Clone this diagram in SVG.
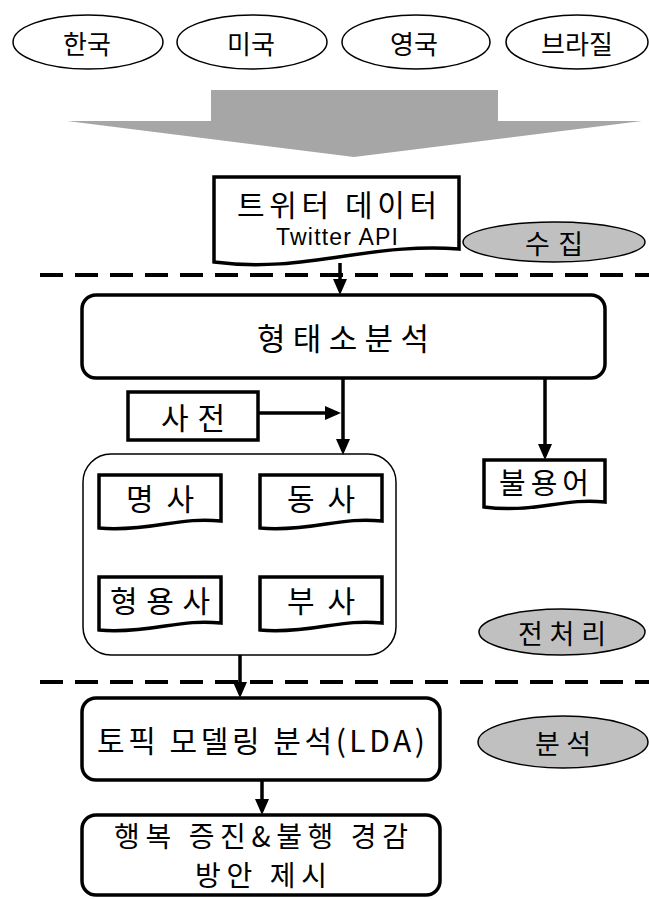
<svg xmlns="http://www.w3.org/2000/svg" width="649" height="899" viewBox="0 0 649 899">
<style>
.t{font-family:"Noto Sans CJK KR","Noto Sans",sans-serif;fill:#000;text-anchor:middle;dominant-baseline:central}
.en{font-family:"Liberation Sans",Arial,sans-serif;fill:#000;text-anchor:middle;dominant-baseline:central}
.thin{fill:#fff;stroke:#000;stroke-width:1.5}
.thick{fill:#fff;stroke:#000;stroke-width:3.5}
.gray{fill:#c0c0c0;stroke:#000;stroke-width:1.5}
.dash{stroke:#000;stroke-width:4;stroke-dasharray:23 12;fill:none}
.conn{stroke:#000;stroke-width:3.5;fill:none}
</style>
<defs>
<marker id="ah" markerUnits="userSpaceOnUse" viewBox="0 0 16 14" markerWidth="16" markerHeight="14" refX="12" refY="7" orient="auto">
<path d="M0,0 L16,7 L0,14 Z" fill="#000"/>
</marker>
</defs>

<g id="country-korea"><ellipse class="thin" cx="88" cy="42" rx="75" ry="27"/><text class="t" x="87" y="42" font-size="26" textLength="48" lengthAdjust="spacing">한국</text></g>
<g id="country-usa"><ellipse class="thin" cx="252" cy="42" rx="75" ry="27"/><text class="t" x="251" y="42" font-size="26" textLength="48" lengthAdjust="spacing">미국</text></g>
<g id="country-uk"><ellipse class="thin" cx="416" cy="42" rx="74" ry="27"/><text class="t" x="414" y="42" font-size="26" textLength="48" lengthAdjust="spacing">영국</text></g>
<g id="country-brazil"><ellipse class="thin" cx="577" cy="42" rx="71" ry="27"/><text class="t" x="577" y="42" font-size="26" textLength="72" lengthAdjust="spacing">브라질</text></g>

<g id="big-arrow"><polygon points="211,90 498,90 498,121 642,121 354,157 67,121 211,121" fill="#a6a6a6"/></g>

<g id="twitter-data">
<path class="thick" d="M214,177 H459 V249 C420,246 385,250 345,256 C300,263 260,268 214,262 Z"/>
<text class="t" x="337" y="203" font-size="30" textLength="200" lengthAdjust="spacing">트위터 데이터</text>
<text class="en" x="337" y="237" font-size="23" textLength="122" lengthAdjust="spacing">Twitter API</text>
</g>

<g id="stage-collect"><ellipse class="gray" cx="554" cy="242" rx="91" ry="20"/><text class="t" x="554" y="242" font-size="27" textLength="58" lengthAdjust="spacing">수집</text></g>

<g id="separators">
<line class="dash" x1="40" y1="275" x2="649" y2="275"/>
<line class="dash" x1="40" y1="682" x2="649" y2="682"/>
</g>

<g id="morph"><rect class="thick" x="82" y="295" width="523" height="83" rx="14"/><text class="t" x="343" y="336" font-size="31" textLength="172" lengthAdjust="spacing">형태소분석</text></g>

<g id="dict"><rect class="thick" x="128" y="392" width="130" height="48"/><text class="t" x="193" y="416" font-size="30" textLength="64" lengthAdjust="spacing">사전</text></g>

<g id="stopword">
<path class="thick" d="M484,460 H605 V502 C585,500 570,502 550,505 C525,509 505,510 484,507 Z"/>
<text class="t" x="544" y="481" font-size="29" textLength="90" lengthAdjust="spacing">불용어</text>
</g>

<g id="pos-group">
<rect class="thin" x="83" y="454" width="313" height="201" rx="28"/>
</g>
<g id="noun">
<path class="thick" d="M99,475 H221 V521 C200,519 185,521 165,524 C140,528 120,530 99,528 Z"/>
<text class="t" x="160" y="497" font-size="30" textLength="68" lengthAdjust="spacing">명사</text>
</g>
<g id="verb">
<path class="thick" d="M260,475 H382 V521 C361,519 346,521 326,524 C301,528 281,530 260,528 Z"/>
<text class="t" x="321" y="497" font-size="30" textLength="68" lengthAdjust="spacing">동사</text>
</g>
<g id="adjective">
<path class="thick" d="M99,577 H221 V623 C200,621 185,623 165,626 C140,630 120,632 99,630 Z"/>
<text class="t" x="160" y="599" font-size="30" textLength="100" lengthAdjust="spacing">형용사</text>
</g>
<g id="adverb">
<path class="thick" d="M260,577 H382 V623 C361,621 346,623 326,626 C301,630 281,632 260,630 Z"/>
<text class="t" x="321" y="599" font-size="30" textLength="68" lengthAdjust="spacing">부사</text>
</g>

<g id="stage-preprocess"><ellipse class="gray" cx="562" cy="632" rx="83" ry="23"/><text class="t" x="562" y="632" font-size="27" textLength="88" lengthAdjust="spacing">전처리</text></g>

<g id="lda"><rect class="thick" x="82" y="698" width="358" height="82" rx="14"/><text class="t" x="261" y="739" font-size="30" textLength="328" lengthAdjust="spacing">토픽 모델링 분석(LDA)</text></g>

<g id="stage-analysis"><ellipse class="gray" cx="563" cy="742" rx="85" ry="26"/><text class="t" x="563" y="742" font-size="27" textLength="56" lengthAdjust="spacing">분석</text></g>

<g id="proposal"><rect class="thick" x="82" y="815" width="358" height="80" rx="14"/>
<text class="t" x="261" y="835" font-size="28" textLength="294" lengthAdjust="spacing">행복 증진&amp;불행 경감</text>
<text class="t" x="261" y="874" font-size="28" textLength="132" lengthAdjust="spacing">방안 제시</text>
</g>

<g id="connectors">
<line class="conn" x1="340" y1="263" x2="340" y2="291" marker-end="url(#ah)"/>
<line class="conn" x1="343" y1="378" x2="343" y2="451" marker-end="url(#ah)"/>
<line class="conn" x1="258" y1="413" x2="337" y2="413" marker-end="url(#ah)"/>
<line class="conn" x1="545" y1="378" x2="545" y2="456" marker-end="url(#ah)"/>
<line class="conn" x1="240" y1="655" x2="240" y2="694" marker-end="url(#ah)"/>
<line class="conn" x1="262" y1="780" x2="262" y2="811" marker-end="url(#ah)"/>
</g>
</svg>
